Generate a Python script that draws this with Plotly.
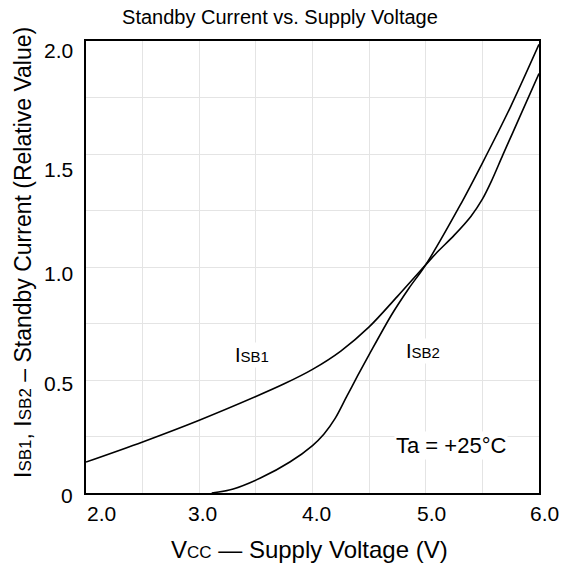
import plotly.graph_objects as go

# ---- data ----
isb1_v = [2.0, 2.5, 3.0, 3.5, 3.75, 4.0, 4.25, 4.5, 4.75, 5.0, 5.1, 5.25, 5.4, 5.5, 5.58, 5.68, 5.83, 6.0]
isb1_i = [0.137, 0.226, 0.322, 0.427, 0.483, 0.547, 0.628, 0.735, 0.87, 1.01, 1.065, 1.14, 1.225, 1.30, 1.38, 1.495, 1.664, 1.856]

isb2_v = [3.11, 3.3, 3.54, 3.8, 4.0, 4.1, 4.2, 4.3, 4.4, 4.5, 4.7, 4.85, 5.0, 5.3, 5.5, 5.75, 6.0]
isb2_i = [0.0, 0.018, 0.066, 0.137, 0.21, 0.26, 0.33, 0.425, 0.52, 0.612, 0.79, 0.905, 1.01, 1.27, 1.46, 1.71, 1.985]

x_tick_vals = [2.0, 3.0, 4.0, 5.0, 6.0]
x_tick_text = ["2.0", "3.0", "4.0", "5.0", "6.0"]
y_tick_vals = [0.0, 0.5, 1.0, 1.5, 2.0]
y_tick_text = ["0", "0.5", "1.0", "1.5", "2.0"]

# ---- styling ----
FONT = "Liberation Sans, Arial, sans-serif"
x_label_nudge = [15, 3.5, 3.7, 5.3, 5.7]
y_label_nudge = [-2, -3, -6, -15, -9]

fig = go.Figure()
for xs, ys in [(isb1_v, isb1_i), (isb2_v, isb2_i)]:
    fig.add_trace(go.Scatter(x=xs, y=ys, mode="lines",
                             line=dict(color="black", width=1.6, shape="spline", smoothing=0.9),
                             showlegend=False, hoverinfo="skip"))

ann = []
for v, t, dx in zip(x_tick_vals, x_tick_text, x_label_nudge):
    ann.append(dict(x=v, y=0, xref="x", yref="paper", text=t, showarrow=False,
                    xanchor="center", yanchor="middle", xshift=dx, yshift=-20,
                    font=dict(size=21, color="black", family=FONT)))
for v, t, dy in zip(y_tick_vals, y_tick_text, y_label_nudge):
    ann.append(dict(x=0, y=v, xref="paper", yref="y", text=t, showarrow=False,
                    xanchor="right", yanchor="middle", xshift=-11, yshift=dy,
                    font=dict(size=21, color="black", family=FONT)))

def small(s, size):
    return "<span style='font-size:%dpx'>%s</span>" % (size, s)

ann.append(dict(x=3.464, y=0.611, xref="x", yref="y", text="I" + small("SB1", 15), showarrow=False,
                bgcolor="white", font=dict(size=20, color="black", family=FONT)))
ann.append(dict(x=4.977, y=0.630, xref="x", yref="y", text="I" + small("SB2", 15), showarrow=False,
                bgcolor="white", font=dict(size=20, color="black", family=FONT)))
ann.append(dict(x=5.227, y=0.210, xref="x", yref="y", text="Ta = +25°C", showarrow=False,
                bgcolor="white", font=dict(size=22, color="black", family=FONT)))

# axis titles
ann.append(dict(x=0.5, y=0, xref="paper", yref="paper",
                text="V" + small("CC", 17) + " — Supply Voltage (V)", showarrow=False,
                xanchor="center", yanchor="middle", xshift=-3, yshift=-56,
                font=dict(size=24, color="black", family=FONT)))
ann.append(dict(x=0, y=0.5, xref="paper", yref="paper",
                text="I" + small("SB1", 17) + ", I" + small("SB2", 17) + " – Standby Current (Relative Value)",
                showarrow=False, textangle=-90, xanchor="center", yanchor="middle", xshift=-63, yshift=14,
                font=dict(size=23, color="black", family=FONT)))

fig.update_layout(
    width=561, height=569,
    margin=dict(l=86, r=22, t=41, b=76),
    paper_bgcolor="white", plot_bgcolor="white",
    title=dict(text="Standby Current vs. Supply Voltage", x=0.499, xanchor="center",
               y=1 - 17 / 569, yanchor="middle", font=dict(size=20, color="black", family=FONT)),
    annotations=ann,
)
fig.update_xaxes(range=[2.0, 6.0], dtick=0.5, tick0=2.0, showgrid=True, gridcolor="#e4e4e4", gridwidth=1,
                 showticklabels=False, ticks="", zeroline=False,
                 showline=True, linecolor="black", linewidth=1.5, mirror=True)
fig.update_yaxes(range=[0, 2.0], dtick=0.25, tick0=0, showgrid=True, gridcolor="#e4e4e4", gridwidth=1,
                 showticklabels=False, ticks="", zeroline=False,
                 showline=True, linecolor="black", linewidth=1.5, mirror=True)

fig.write_html("out.html")
